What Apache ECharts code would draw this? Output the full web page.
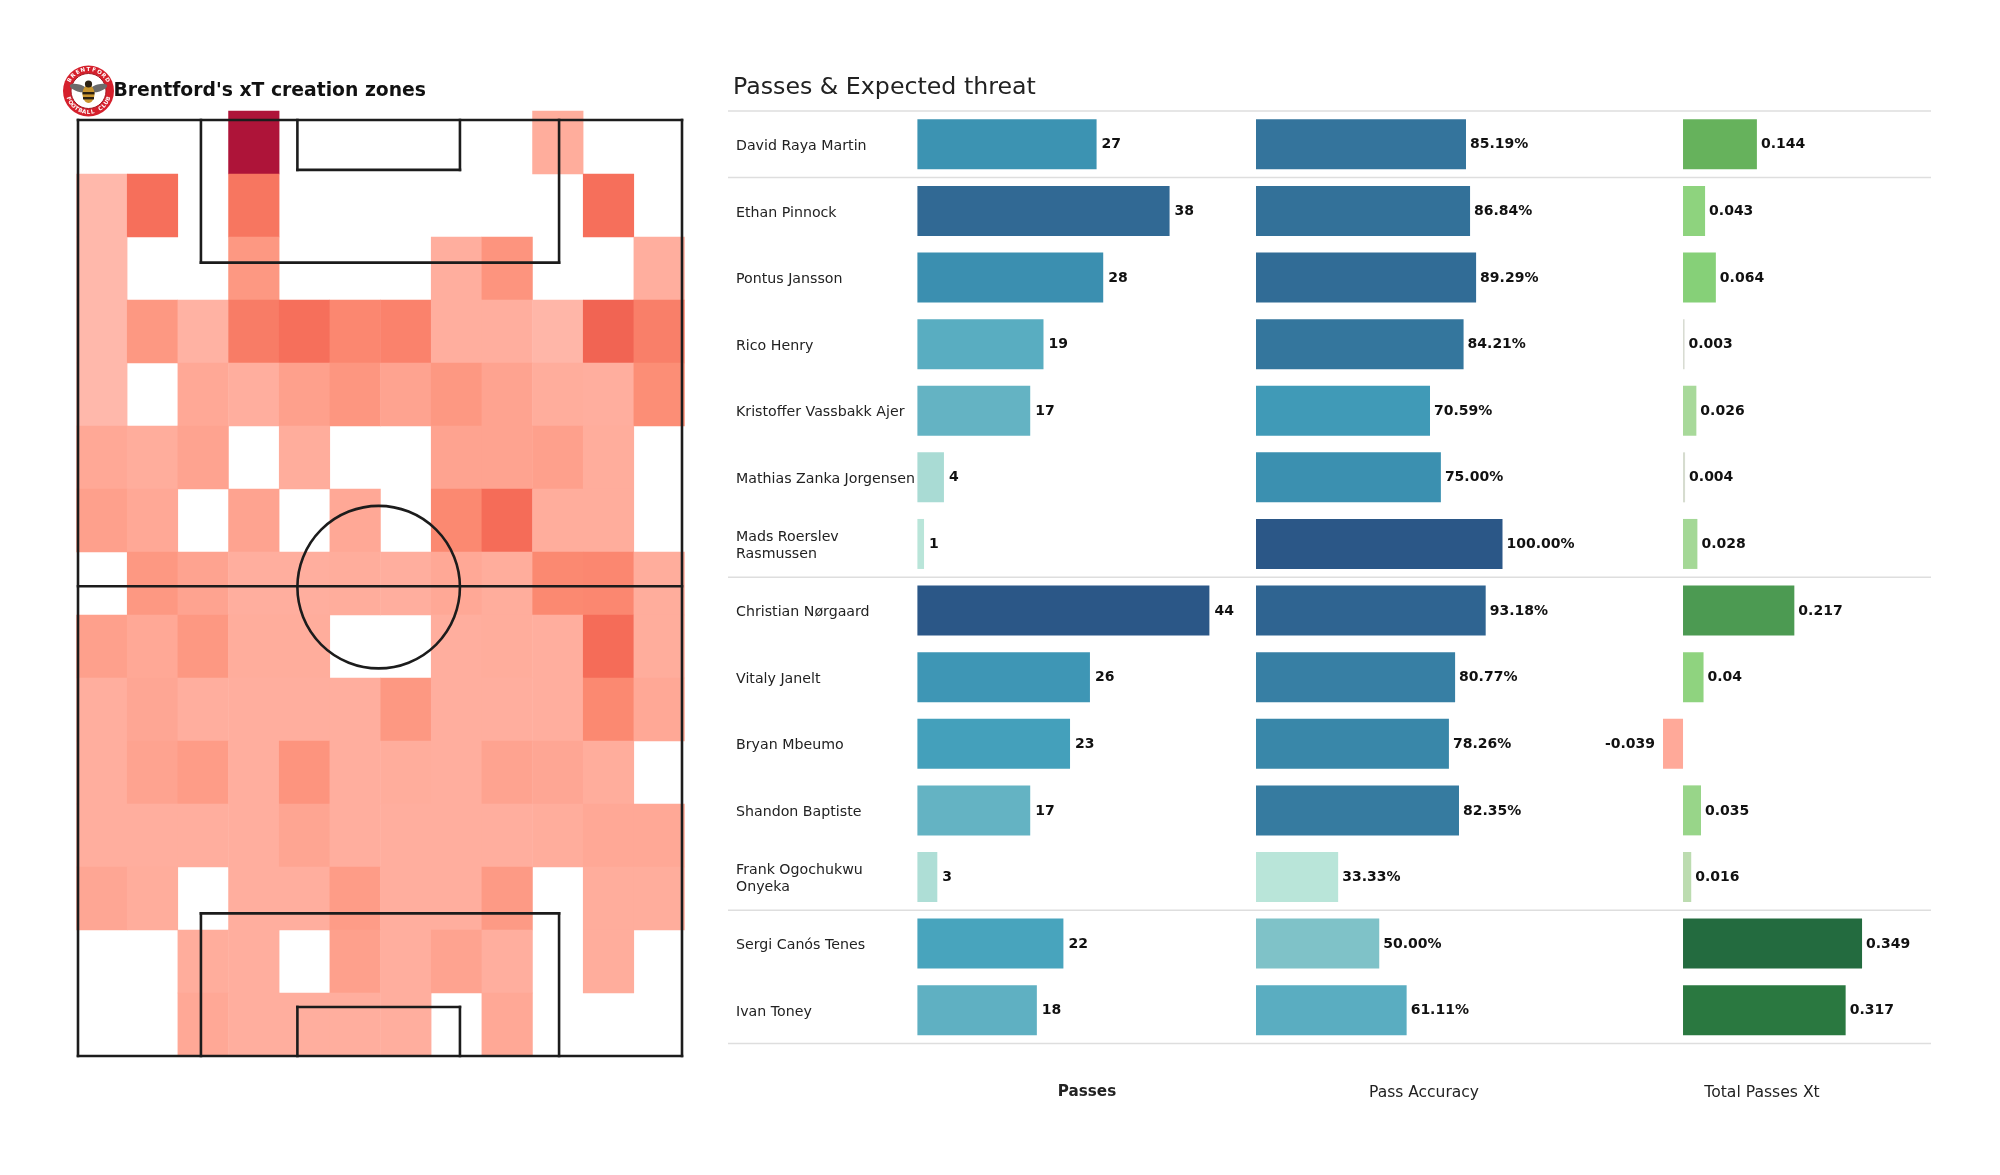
<!DOCTYPE html>
<html><head><meta charset="utf-8">
<style>html,body{margin:0;padding:0;background:#fff}#c{width:2000px;height:1175px}</style>
<script src="https://cdn.jsdelivr.net/npm/echarts@6/dist/echarts.min.js"></script>
</head><body><div id="c"></div>
<script>
const players = ["David Raya Martin","Ethan Pinnock","Pontus Jansson","Rico Henry","Kristoffer Vassbakk Ajer","Mathias Zanka Jorgensen","Mads Roerslev\nRasmussen","Christian Nørgaard","Vitaly Janelt","Bryan Mbeumo","Shandon Baptiste","Frank Ogochukwu\nOnyeka","Sergi Canós Tenes","Ivan Toney"];
const passes = [27,38,28,19,17,4,1,44,26,23,17,3,22,18];
const accuracy = [85.19,86.84,89.29,84.21,70.59,75.00,100.00,93.18,80.77,78.26,82.35,33.33,50.00,61.11];
const xtTotal = [0.144,0.043,0.064,0.003,0.026,0.004,0.028,0.217,0.04,-0.039,0.035,0.016,0.349,0.317];
const groupBreaks = [0,1,7,12,14];
const columnTitles = ["Passes","Pass Accuracy","Total Passes Xt"];
// Estimated zone intensity (0 to 1), null = no passes. Rows run from the top of the picture.
const _ = null;
const xtZones = [
 [_,_,_,1.0,_,_,_,_,_,.12,_,_],
 [.03,.48,_,.44,_,_,_,_,_,_,.48,_],
 [.03,_,_,.24,_,_,_,.11,.26,_,_,.11],
 [.03,.24,.08,.40,.48,.33,.36,.11,.11,.05,.53,.38],
 [.03,_,.15,.11,.20,.25,.18,.24,.18,.12,.11,.29],
 [.15,.12,.18,_,.12,_,_,.18,.18,.20,.12,_],
 [.20,.15,_,.18,_,.15,_,.32,.50,.12,.12,_],
 [_,.24,.18,.11,.11,.12,.11,.15,.12,.32,.33,.12],
 [.20,.15,.24,.12,.12,_,_,.11,.12,.11,.50,.12],
 [.11,.16,.11,.11,.11,.11,.24,.11,.11,.11,.32,.15],
 [.11,.18,.22,.11,.26,.11,.12,.11,.18,.16,.12,_],
 [.11,.11,.11,.11,.17,.11,.11,.11,.11,.12,.15,.15],
 [.16,.12,_,.11,.11,.22,.11,.11,.23,_,.12,.12],
 [_,_,.12,.11,_,.20,.11,.18,.11,_,.12,_],
 [_,_,.15,.11,.11,.11,.11,_,.15,_,_,_]
];
const zoneColours = ['#ffbcb0','#ffb0a0','#fea08c','#fc8c74','#f87c66','#f56c58','#e75246','#d83a40','#c8283c','#bb1c3a','#ae1439'];
// Pitch markings in metres, [x1,y1,x2,y2]
const pitchLines = [
 [0,0,68,0],[0,105,68,105],[0,0,0,105],[68,0,68,105],[0,52.3,68,52.3],
 [13.84,0,13.84,16],[54.16,0,54.16,16],[13.84,16,54.16,16],
 [24.7,0,24.7,5.6],[43,0,43,5.6],[24.7,5.6,43,5.6],
 [13.84,105,13.84,89],[54.16,105,54.16,89],[13.84,89,54.16,89],
 [24.7,105,24.7,99.5],[43,105,43,99.5],[24.7,99.5,43,99.5]
];
const centreCircle = [[33.85,52.4,9.15]];
const blueRamp = [[0,'#b9e5d9'],[.25,'#7fc2c8'],[.4,'#5eafc2'],[.5,'#45a2bc'],[.62,'#3b91b1'],[.75,'#35789e'],[.9,'#2f6491'],[1,'#2b5787']];
const greenRamp = [[.003,'#d8dcd2'],[.016,'#bcdcb0'],[.026,'#a8d99a'],[.04,'#8fd37f'],[.064,'#86d078'],[.144,'#66b25c'],[.217,'#4c9a52'],[.317,'#2a7840'],[.349,'#236b3f']];
const badgeTop = "BRENTFORD";
const badgeBottom = "FOOTBALL CLUB";

function ramp(stops,t){
  if(t<=stops[0][0])return stops[0][1];
  for(let i=1;i<stops.length;i++){
    if(t<=stops[i][0]){
      const k=(t-stops[i-1][0])/(stops[i][0]-stops[i-1][0]);
      const a=stops[i-1][1],b=stops[i][1];
      const ch=(s,j)=>parseInt(s.substr(1+2*j,2),16);
      return 'rgb('+[0,1,2].map(j=>Math.round(ch(a,j)+(ch(b,j)-ch(a,j))*k)).join(',')+')';
    }
  }
  return stops[stops.length-1][1];
}
const F='"DejaVu Sans"';
const gridTop=111,gridH=932.5,barW=50;
const zoneData=[];
xtZones.forEach((r,y)=>r.forEach((v,x)=>{if(v!==_)zoneData.push([x,y,v]);}));
function barSeries(i,vals,colorFn,fmt,gap){
  return {type:'bar',xAxisIndex:i,yAxisIndex:i,barWidth:barW,silent:true,
    data:vals.map(v=>({value:v,itemStyle:{color:colorFn(v)},label:{position:v<0?'left':'right',distance:v<0?8:gap}})),
    label:{show:true,color:'#111',fontFamily:F,fontWeight:'bold',fontSize:14,offset:[0,0.5],formatter:p=>fmt(p.value)}};
}
const segItem=(params,api)=>{
  const a=api.coord([api.value(0),api.value(1)]),b=api.coord([api.value(2),api.value(3)]);
  return {type:'line',shape:{x1:a[0],y1:a[1],x2:b[0],y2:b[1]},style:{stroke:'#1c1c1c',lineWidth:2.6,lineCap:'square'}};
};
const circItem=(params,api)=>{
  const c=api.coord([api.value(0),api.value(1)]),s=api.size([api.value(2),api.value(2)]);
  return {type:'circle',shape:{cx:c[0],cy:c[1],r:s[0]},style:{fill:'none',stroke:'#1c1c1c',lineWidth:2.6}};
};
const sepItem=(params,api)=>{
  const a=api.coord([0,api.value(0)]),b=api.coord([1,api.value(0)]);
  return {type:'line',shape:{x1:a[0],y1:a[1],x2:b[0],y2:b[1]},style:{stroke:'#dedede',lineWidth:1.5}};
};
// badge
const bx=88.5,by=91;
const badge=[
 {type:'circle',shape:{cx:bx,cy:by,r:25.5},style:{fill:'#d5202c'}},
 {type:'circle',shape:{cx:bx,cy:by,r:17.5},style:{fill:'#fff',stroke:'#a01822',lineWidth:1}},
 {type:'ellipse',shape:{cx:bx-10,cy:by-3,rx:9,ry:3.6},rotation:-0.3,originX:bx-10,originY:by-3,style:{fill:'#6b6b6b'}},
 {type:'ellipse',shape:{cx:bx+10,cy:by-3,rx:9,ry:3.6},rotation:0.3,originX:bx+10,originY:by-3,style:{fill:'#6b6b6b'}},
 {type:'ellipse',shape:{cx:bx,cy:by+3,rx:6,ry:9},style:{fill:'#c9962f'}},
 {type:'rect',shape:{x:bx-6,y:by+1,width:12,height:2.4},style:{fill:'#2a2012'}},
 {type:'rect',shape:{x:bx-5.5,y:by+6,width:11,height:2.4},style:{fill:'#2a2012'}},
 {type:'circle',shape:{cx:bx,cy:by-7,r:3.6},style:{fill:'#2a2012'}}
];
function ringText(str,centre,step,flip){
  [...str].forEach((ch,i)=>{
    const ang=centre+(i-(str.length-1)/2)*step*(flip?-1:1);
    badge.push({type:'text',x:bx+21.5*Math.sin(ang),y:by-21.5*Math.cos(ang),rotation:flip?Math.PI-ang:-ang,
      style:{text:ch,fill:'#fff',font:'bold 5.5px "DejaVu Sans"',align:'center',verticalAlign:'middle'}});
  });
}
ringText(badgeTop,0,0.26,false);
ringText(badgeBottom,Math.PI,0.2,true);
const option={
  animation:false,backgroundColor:'#fff',
  title:[
    {text:"Brentford's xT creation zones",left:108.5,top:77,textStyle:{fontFamily:F,fontSize:18.8,fontWeight:'bold',color:'#111'}},
    {text:"Passes & Expected threat",left:728,top:71,textStyle:{fontFamily:F,fontSize:23.7,fontWeight:'normal',color:'#222'}},
    {text:columnTitles[0],left:1082,top:1080,textAlign:'center',textStyle:{fontFamily:F,fontSize:15.2,fontWeight:'bold',color:'#222'}},
    {text:columnTitles[1],left:1419,top:1080,textAlign:'center',textStyle:{fontFamily:F,fontSize:15.5,fontWeight:'normal',color:'#222'}},
    {text:columnTitles[2],left:1757,top:1080,textAlign:'center',textStyle:{fontFamily:F,fontSize:15.6,fontWeight:'normal',color:'#222'}}
  ],
  visualMap:[{show:false,seriesIndex:0,dimension:2,min:0,max:1,inRange:{color:zoneColours}}],
  grid:[
    {left:917.4,top:gridTop,width:292,height:gridH},
    {left:1256,top:gridTop,width:246.5,height:gridH},
    {left:1662.5,top:gridTop,width:205.2,height:gridH},
    {left:76.5,top:111,width:608,height:945},
    {left:78,top:120,width:604,height:936},
    {left:728,top:gridTop,width:1203,height:gridH},
    {left:917.4,top:gridTop+2,width:292,height:gridH}
  ],
  xAxis:[
    {gridIndex:0,type:'value',min:0,max:44,show:false},
    {gridIndex:1,type:'value',min:0,max:100,show:false},
    {gridIndex:2,type:'value',min:-0.04,max:0.36,show:false},
    {gridIndex:3,type:'category',data:xtZones[0].map((v,i)=>i),show:false},
    {gridIndex:4,type:'value',min:0,max:68,show:false},
    {gridIndex:5,type:'value',min:0,max:1,show:false},
    {gridIndex:6,type:'value',min:0,max:1,show:false}
  ],
  yAxis:[
    {gridIndex:0,type:'category',inverse:true,data:players,show:false},
    {gridIndex:1,type:'category',inverse:true,data:players,show:false},
    {gridIndex:2,type:'category',inverse:true,data:players,show:false},
    {gridIndex:3,type:'category',inverse:true,data:xtZones.map((v,i)=>i),show:false},
    {gridIndex:4,type:'value',inverse:true,min:0,max:105,show:false},
    {gridIndex:5,type:'value',inverse:true,min:0,max:14,show:false},
    {gridIndex:6,type:'category',inverse:true,data:players,axisLine:{show:false},axisTick:{show:false},
      axisLabel:{align:'left',margin:181.4,fontFamily:F,fontSize:14.2,color:'#222',lineHeight:17}}
  ],
  series:[
    {type:'heatmap',xAxisIndex:3,yAxisIndex:3,data:zoneData,silent:true,z:1},
    {type:'custom',xAxisIndex:4,yAxisIndex:4,data:pitchLines,renderItem:segItem,silent:true,z:5},
    {type:'custom',xAxisIndex:4,yAxisIndex:4,data:centreCircle,renderItem:circItem,silent:true,z:5},
    {type:'custom',xAxisIndex:5,yAxisIndex:5,data:groupBreaks.map(v=>[v]),renderItem:sepItem,silent:true,z:1},
    barSeries(0,passes,v=>ramp(blueRamp,(v-1)/43),v=>String(v),5),
    barSeries(1,accuracy,v=>ramp(blueRamp,(v-33.33)/66.67),v=>v.toFixed(2)+'%',4),
    barSeries(2,xtTotal,v=>v<0?'#ffa999':ramp(greenRamp,v),v=>String(v),4)
  ],
  graphic:badge
};
echarts.init(document.getElementById('c'),null,{renderer:'canvas'}).setOption(option);
</script></body></html>
